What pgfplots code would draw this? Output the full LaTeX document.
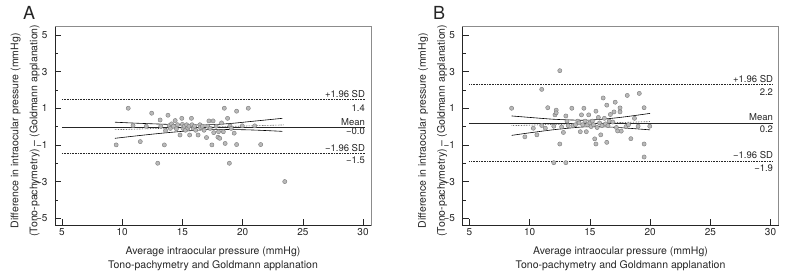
\documentclass[border=0pt]{standalone}
\usepackage{fontspec}
\setmainfont{TeX Gyre Heros}
\usepackage{pgfplots}
\pgfplotsset{compat=1.18}
\pgfplotsset{
  baplot/.style={
    scale only axis, width=316pt, height=198.3pt,
    xmin=4.42, xmax=30.66, ymin=-5.37, ymax=5.45,
    xtick={5,10,15,20,25,30},
    ytick={-5,-3,-1,1,3,5},
    yticklabels={−5,−3,−1,1,3,5},
    minor ytick={-4,-2,0,2,4},
    tick pos=left, tick align=inside,
    major tick length=6pt, minor tick length=3pt,
    axis line style={black!45, line width=0.6pt},
    every tick/.style={black!85, line width=0.6pt},
    tick label style={font=\fontsize{10}{12}\selectfont, text=black!85},
    yticklabel style={xshift=-4pt},
    /pgf/number format/assume math mode=true,
    xlabel={Average intraocular pressure (mmHg)\\Tono-pachymetry and Goldmann applanation},
    xlabel style={align=center, font=\fontsize{10.5}{14}\selectfont, text=black!85, yshift=-4pt},
    ylabel={Difference in intraocular pressure (mmHg)\\[6.4pt](Tono-pachymetry) – (Goldmann applanation)},
    every axis y label/.style={at={(rel axis cs:-0.037,0.475)}, anchor=south, rotate=90,
      align=center, font=\fontsize{10.5}{12.6}\selectfont, text=black!85},
    clip=false,
  },
  pts/.style={only marks, mark=*, mark size=2.1pt,
    mark options={fill=gray!55, draw=gray!95!black, line width=0.4pt}},
  meanline/.style={black!85, line width=0.8pt},
  sdline/.style={black!85, densely dotted, line width=0.6pt},
  ciline/.style={black, line width=0.6pt, smooth},
}
\tikzset{rlab/.style={anchor=base east, inner sep=0pt, font=\fontsize{9.5}{11}\selectfont, text=black!85}}
\begin{document}
\begin{tikzpicture}[x=1pt,y=1pt]
\path[use as bounding box] (0,0) rectangle (790,279);
\node[anchor=base west, inner sep=0pt, font=\fontsize{18}{18}\selectfont, text=black!85] at (23,259) {A};
\node[anchor=base west, inner sep=0pt, font=\fontsize{18}{18}\selectfont, text=black!85] at (433,259) {B};

% ---------------- Panel A ----------------
\begin{axis}[baplot, at={(55pt,54pt)}, anchor=south west]
\addplot[sdline] coordinates {(5,1.49) (30.17,1.49)};
\addplot[sdline] coordinates {(5,-1.46) (30.17,-1.46)};
\addplot[meanline] coordinates {(5,-0.02) (30.17,-0.02)};
\addplot[sdline] coordinates {(9.4,-0.17) (23.4,0.09)};
\addplot[ciline] coordinates {(9.4,0.24) (11,0.19) (13,0.14) (15,0.10) (17.2,0.10) (19,0.17) (21,0.30) (23.3,0.45)};
\addplot[ciline] coordinates {(9.4,-0.64) (11,-0.52) (13,-0.38) (15,-0.26) (17.2,-0.16) (19,-0.16) (21,-0.19) (23.3,-0.26)};
\addplot[pts] table {
x y
9.5 -1.0
10.5 1.0
10.9 0.05
11.5 -0.82
12.0 0.02
12.45 0.73
12.95 -2.0
13.15 0.36
13.2 0.02
13.5 -1.0
13.6 -0.22
13.8 0.62
13.9 0.05
14.0 -0.1
14.1 0.15
14.25 0.02
14.4 0.33
14.5 -0.12
14.6 0.1
14.8 -0.46
14.95 0.45
15.0 0.12
15.05 -0.1
15.15 0.02
15.25 -0.2
15.35 0.1
15.45 -0.08
15.55 0.02
15.6 -0.46
15.75 0.45
15.8 0.1
15.9 -0.1
16.0 0.02
16.1 -0.2
16.3 -0.46
16.45 0.1
16.5 -0.05
16.65 0.02
16.8 -0.2
17.0 -0.6
17.1 0.02
17.2 0.31
17.3 -0.1
17.45 -1.0
17.55 0.31
17.6 -0.33
17.8 0.02
17.95 -0.58
18.0 -0.28
18.1 -0.64
18.25 0.2
18.4 -0.28
18.48 1.0
18.55 -0.92
18.75 0.45
18.9 -2.0
18.95 0.04
19.05 -0.1
19.3 -0.36
19.5 0.84
19.5 -0.98
19.97 0.04
20.47 1.0
21.0 0.04
21.5 -0.98
23.5 -3.0
};
\node[rlab] at (axis cs:30.17,1.60) {+1.96 SD};
\node[rlab] at (axis cs:30.17,0.815) {1.4};
\node[rlab] at (axis cs:30.17,0.05) {Mean};
\node[rlab] at (axis cs:30.17,-0.455) {−0.0};
\node[rlab] at (axis cs:30.17,-1.37) {−1.96 SD};
\node[rlab] at (axis cs:30.17,-2.0) {−1.5};
\draw[black!85, line width=0.8pt] (rel axis cs:0,1) -- (rel axis cs:0,0) -- (rel axis cs:1,0);
\end{axis}

% ---------------- Panel B ----------------
\begin{axis}[baplot, at={(462.5pt,54pt)}, anchor=south west]
\addplot[sdline] coordinates {(5,2.31) (30.2,2.31)};
\addplot[sdline] coordinates {(5,-1.87) (30.2,-1.87)};
\addplot[meanline] coordinates {(5,0.17) (30.2,0.17)};
\addplot[sdline] coordinates {(8.5,0.05) (20,0.27)};
\addplot[ciline] coordinates {(8.5,0.58) (10,0.50) (12,0.40) (14,0.35) (15,0.355) (16.5,0.43) (18,0.54) (20,0.72)};
\addplot[ciline] coordinates {(8.5,-0.48) (10,-0.34) (12,-0.17) (14,-0.04) (15,-0.01) (16.5,-0.02) (18,-0.08) (20,-0.18)};
\addplot[pts] table {
x y
8.5 1.0
9.6 -0.56
10.3 -0.09
10.6 -0.45
11.0 2.03
11.0 0.06
11.3 -0.09
11.5 1.03
12.0 0.02
12.0 -1.97
12.1 0.64
12.2 0.9
12.2 0.75
12.5 3.05
12.5 -0.95
12.65 -0.02
12.8 -0.32
13.0 0.58
13.0 -1.97
13.1 0.3
13.2 0.05
13.5 1.0
13.6 0.05
13.8 0.1
14.0 0.3
14.1 0.2
14.2 -0.28
14.3 0.64
14.4 0.1
14.5 1.0
14.6 0.3
14.7 -0.28
14.8 0.1
14.9 0.64
15.0 0.2
15.1 0.0
15.2 0.3
15.3 0.1
15.4 -0.67
15.5 -0.95
15.5 0.84
15.6 -0.05
15.7 0.5
15.8 0.2
15.9 -0.45
16.0 0.05
16.1 1.56
16.2 0.45
16.3 0.15
16.4 1.17
16.4 -0.86
16.5 0.05
16.6 0.3
16.7 0.66
16.9 0.25
17.0 0.8
17.1 1.33
17.2 -0.05
17.3 -0.24
17.5 1.02
17.5 0.8
17.6 -0.25
18.0 0.0
18.1 1.7
18.2 0.1
18.4 -0.66
18.7 0.45
19.1 1.81
19.0 0.02
19.5 1.03
19.5 -0.95
19.5 -1.66
19.97 0.02
};
\node[rlab] at (axis cs:30.22,2.42) {+1.96 SD};
\node[rlab] at (axis cs:30.22,1.69) {2.2};
\node[rlab] at (axis cs:30.22,0.33) {Mean};
\node[rlab] at (axis cs:30.22,-0.31) {0.2};
\node[rlab] at (axis cs:30.22,-1.73) {−1.96 SD};
\node[rlab] at (axis cs:30.22,-2.46) {−1.9};
\draw[black!85, line width=0.8pt] (rel axis cs:0,1) -- (rel axis cs:0,0) -- (rel axis cs:1,0);
\end{axis}
\end{tikzpicture}
\end{document}
